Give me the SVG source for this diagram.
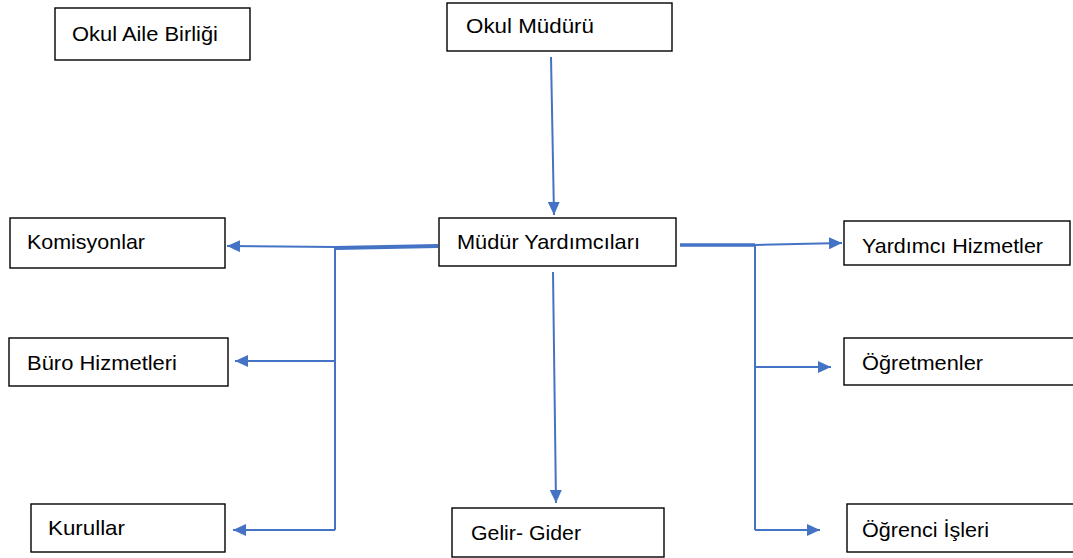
<svg xmlns="http://www.w3.org/2000/svg" width="1073" height="558" viewBox="0 0 1073 558">
<style>
.box{fill:#fff;stroke:#000;stroke-width:1.4}
.t{font-family:"Liberation Sans",Arial,sans-serif;font-size:21px;fill:#000}
.c{fill:none;stroke:#4472C4;stroke-width:2}
.thick{fill:none;stroke:#4472C4;stroke-width:4}
</style>
<defs>
<marker id="ah" markerUnits="userSpaceOnUse" markerWidth="14" markerHeight="12" refX="13" refY="6" orient="auto">
<path d="M0,0 L13,6 L0,12 Z" fill="#4472C4"/>
</marker>
</defs>
<rect width="1073" height="558" fill="#fff"/>
<g id="connectors">
<path class="c" d="M551,57 L554,215" marker-end="url(#ah)"/>
<path class="thick" d="M438,246 L335,248"/>
<path class="c" d="M335,247 L227,246" marker-end="url(#ah)"/>
<path class="c" d="M335,247 L335,530"/>
<path class="c" d="M335,361 L235,361" marker-end="url(#ah)"/>
<path class="c" d="M335,530 L233,530" marker-end="url(#ah)"/>
<path class="c" d="M553,272 L556,503" marker-end="url(#ah)"/>
<path class="thick" d="M680,245 L755,245" style="stroke-width:3.5"/>
<path class="c" d="M755,245 L842,243" marker-end="url(#ah)"/>
<path class="c" d="M755,245 L755,530"/>
<path class="c" d="M755,367 L831,367" marker-end="url(#ah)"/>
<path class="c" d="M755,530 L820,530" marker-end="url(#ah)"/>
</g>
<g id="okul-aile-birligi"><rect class="box" x="55" y="8" width="195" height="52"/><text class="t" x="72" y="41" textLength="146" lengthAdjust="spacingAndGlyphs">Okul Aile Birliği</text></g>
<g id="okul-muduru"><rect class="box" x="447" y="3" width="225" height="48"/><text class="t" x="466" y="33" textLength="128" lengthAdjust="spacingAndGlyphs">Okul Müdürü</text></g>
<g id="mudur-yardimcilari"><rect class="box" x="439" y="218" width="237" height="48"/><text class="t" x="457" y="249" textLength="183" lengthAdjust="spacingAndGlyphs">Müdür Yardımcıları</text></g>
<g id="komisyonlar"><rect class="box" x="10" y="218" width="215" height="50"/><text class="t" x="27" y="249" textLength="118" lengthAdjust="spacingAndGlyphs">Komisyonlar</text></g>
<g id="buro-hizmetleri"><rect class="box" x="9" y="338" width="219" height="48"/><text class="t" x="27" y="370" textLength="150" lengthAdjust="spacingAndGlyphs">Büro Hizmetleri</text></g>
<g id="kurullar"><rect class="box" x="31" y="504" width="194" height="48"/><text class="t" x="48" y="535" textLength="77" lengthAdjust="spacingAndGlyphs">Kurullar</text></g>
<g id="gelir-gider"><rect class="box" x="452" y="508" width="212" height="49"/><text class="t" x="471" y="540" textLength="110" lengthAdjust="spacingAndGlyphs">Gelir- Gider</text></g>
<g id="yardimci-hizmetler"><rect class="box" x="844" y="221" width="226" height="44"/><text class="t" x="862" y="253" textLength="181" lengthAdjust="spacingAndGlyphs">Yardımcı Hizmetler</text></g>
<g id="ogretmenler"><rect class="box" x="844" y="338" width="231" height="47"/><text class="t" x="862" y="370" textLength="121" lengthAdjust="spacingAndGlyphs">Öğretmenler</text></g>
<g id="ogrenci-isleri"><rect class="box" x="847" y="504" width="228" height="48"/><text class="t" x="862" y="537" textLength="127" lengthAdjust="spacingAndGlyphs">Öğrenci İşleri</text></g>
</svg>
